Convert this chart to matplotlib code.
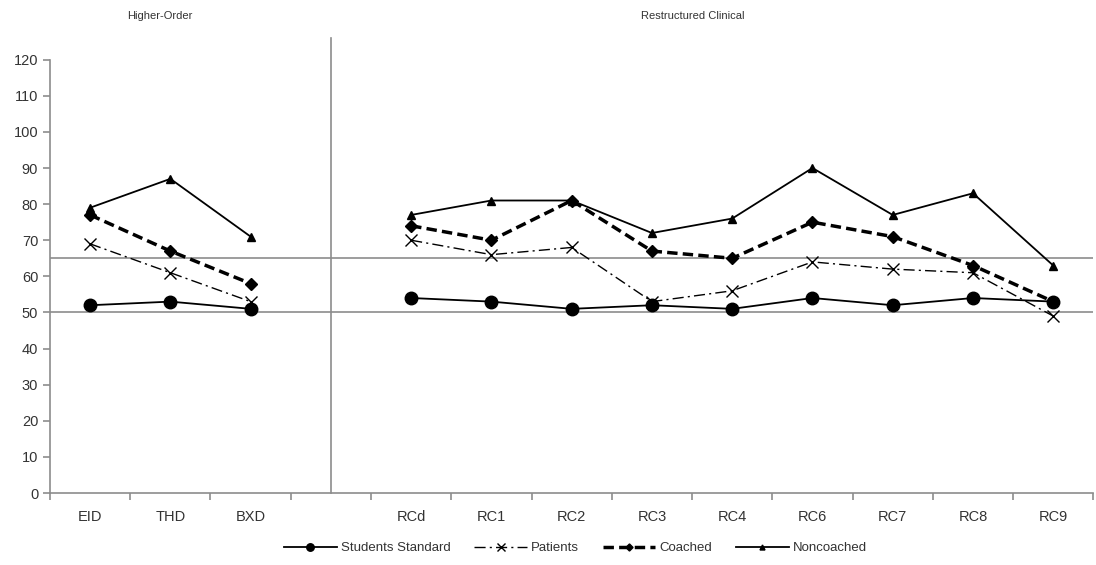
import matplotlib.pyplot as plt
import numpy as np

plt.rcParams["font.family"] = ["Liberation Sans", "DejaVu Sans"]

categories = ["EID", "THD", "BXD", "", "RCd", "RC1", "RC2", "RC3", "RC4",
              "RC6", "RC7", "RC8", "RC9"]
nan = np.nan
students = [52, 53, 51, nan, 54, 53, 51, 52, 51, 54, 52, 54, 53]
patients = [69, 61, 53, nan, 70, 66, 68, 53, 56, 64, 62, 61, 49]
coached = [77, 67, 58, nan, 74, 70, 81, 67, 65, 75, 71, 63, 53]
noncoached = [79, 87, 71, nan, 77, 81, 81, 72, 76, 90, 77, 83, 63]
ref_lines = [50, 65]
divider = 3

txt = "#333333"
grey = "#8c8c8c"

fig = plt.figure(figsize=(10.96, 5.65), dpi=100)
ax = fig.add_axes([0.0456, 0.1274, 0.952, 0.767])

x = np.arange(len(categories))
ax.plot(x, students, color="black", lw=1.3, marker="o", ms=9,
        label="Students Standard")
ax.plot(x, patients, color="black", lw=1.0, ls=(0, (8, 3, 1.5, 3)),
        marker="x", ms=9, mew=1.0, label="Patients")
ax.plot(x, coached, color="black", lw=2.5, ls=(0, (3, 1.5)),
        marker="D", ms=6, label="Coached")
ax.plot(x, noncoached, color="black", lw=1.3, marker="^", ms=6,
        label="Noncoached")

for v in ref_lines:
    ax.axhline(v, color=grey, lw=1.2, zorder=0)
ax.plot([divider, divider], [0, 126], color=grey, lw=1.2, clip_on=False,
        zorder=0)

ax.set_xlim(-0.5, len(categories) - 0.5)
ax.set_ylim(0, 120)
ax.set_yticks(range(0, 121, 10))
ax.set_xticks(x)
ax.set_xticklabels(categories)
ax.set_xticks(np.arange(-0.5, len(categories), 1), minor=True)
ax.tick_params(axis="x", which="major", length=0, pad=12, labelsize=10.5,
               labelcolor=txt)
ax.tick_params(axis="x", which="minor", length=5, color=grey, width=1.2)
ax.tick_params(axis="y", length=5, color=grey, width=1.2, labelsize=10.5,
               labelcolor=txt)

for s in ["top", "right"]:
    ax.spines[s].set_visible(False)
for s in ["left", "bottom"]:
    ax.spines[s].set_color(grey)
    ax.spines[s].set_linewidth(1.2)

fig.text(160 / 1096, 1 - 16 / 565, "Higher-Order", ha="center", va="center",
         fontsize=8, color=txt)
fig.text(693 / 1096, 1 - 16 / 565, "Restructured Clinical", ha="center",
         va="center", fontsize=8, color=txt)

fig.legend(loc="center", bbox_to_anchor=(0.525, 1 - 548 / 565), ncol=4,
           frameon=False, fontsize=9.5, handlelength=4, columnspacing=1.8,
           handletextpad=0.3, labelcolor=txt, markerscale=0.6)

fig.savefig("out.png", dpi=100)
